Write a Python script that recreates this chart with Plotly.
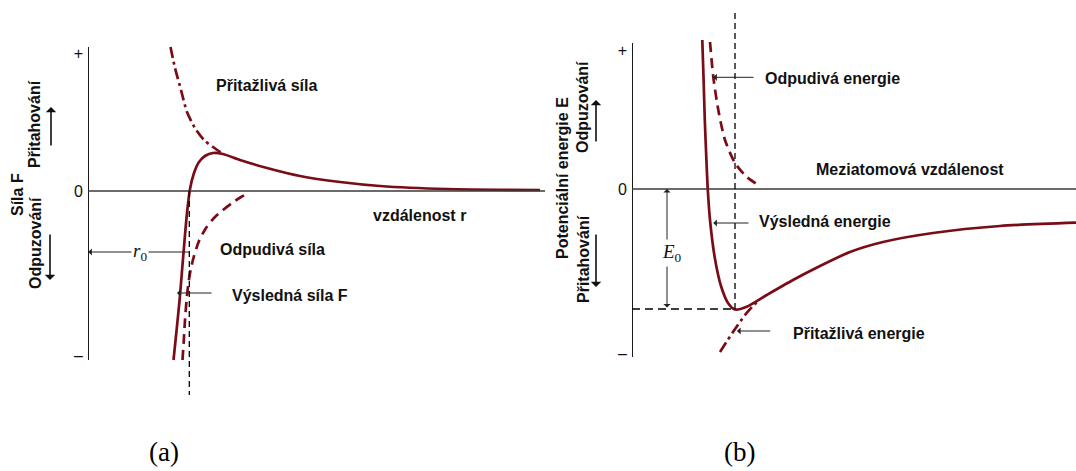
import plotly.graph_objects as go

MAROON = "#7a0c17"
W, H = 1076, 471

# ---------------- Panel (a): force vs distance ----------------
a_attr_r = [0.825, 0.87, 0.93, 0.99, 1.07, 1.16, 1.25, 1.35]
a_attr_F = [1.44, 1.23, 1.01, 0.79, 0.63, 0.51, 0.44, 0.37]

a_res_r = [0.855, 0.885, 0.915, 0.94, 0.965, 0.99, 1.02, 1.06, 1.11, 1.17, 1.25, 1.35,
           1.52, 1.79, 2.12, 2.52, 2.92, 3.59, 4.52]
a_res_F = [-1.69, -1.40, -1.10, -0.80, -0.50, -0.22, 0.02, 0.18, 0.29, 0.35, 0.38, 0.37,
           0.31, 0.23, 0.15, 0.09, 0.05, 0.02, 0.01]

a_rep_r = [0.945, 0.958, 0.97, 0.985, 1.003, 1.028, 1.06, 1.11, 1.18, 1.26, 1.35, 1.44, 1.53, 1.603]
a_rep_F = [-1.69, -1.49, -1.29, -1.10, -0.93, -0.78, -0.65, -0.50, -0.37, -0.27, -0.19, -0.12, -0.06, -0.02]

a_r0 = 1.013
a_ticks = [1.38, 0.0, -1.64]
a_ticktext = ["+", "0", "–"]

# ---------------- Panel (b): potential energy ----------------
b_res_r = [0.703, 0.716, 0.728, 0.742, 0.758, 0.783, 0.83, 0.89, 0.96, 1.03, 1.147, 1.347,
           1.61, 1.88, 2.18, 2.51, 3.01, 3.68, 4.44]
b_res_E = [1.49, 1.09, 0.69, 0.34, -0.01, -0.34, -0.70, -0.97, -1.14, -1.205, -1.177, -1.06,
           -0.91, -0.77, -0.63, -0.53, -0.44, -0.37, -0.337]

b_rep_r = [0.78, 0.813, 0.863, 0.93, 1.03, 1.147, 1.263]
b_rep_E = [1.47, 1.12, 0.79, 0.49, 0.26, 0.12, 0.04]

b_attr_r = [0.88, 1.01, 1.13, 1.20, 1.26]
b_attr_E = [-1.63, -1.43, -1.26, -1.18, -1.12]

b_r0 = 1.03
b_E0 = -1.20
b_ticks = [1.39, 0.0, -1.64]
b_ticktext = ["+", "0", "–"]

fig = go.Figure()

def curve(x, y, xa, ya, dash, width=2.7):
    fig.add_trace(go.Scatter(x=x, y=y, xaxis=xa, yaxis=ya, mode="lines",
                             line=dict(color=MAROON, width=width, dash=dash,
                                       shape="spline", smoothing=0.7),
                             hoverinfo="skip"))

DASHDOT = "11px,4px,3px,4px"
DASH = "10px,6px"

curve(a_attr_r, a_attr_F, "x", "y", DASHDOT)
curve(a_rep_r, a_rep_F, "x", "y", DASH)
curve(a_res_r, a_res_F, "x", "y", "solid")

curve(b_attr_r, b_attr_E, "x2", "y2", DASHDOT)
curve(b_rep_r, b_rep_E, "x2", "y2", DASH)
curve(b_res_r, b_res_E, "x2", "y2", "solid")

shapes = [
    # panel (a) axes
    dict(type="line", xref="x", yref="y", x0=0, x1=0, y0=-1.69, y1=1.44,
         line=dict(color="black", width=1.8)),
    dict(type="line", xref="x", yref="y", x0=0, x1=4.57, y0=0, y1=0,
         line=dict(color="#3a3a3a", width=1.6)),
    dict(type="line", xref="x", yref="y", x0=a_r0, x1=a_r0, y0=0, y1=-2.04,
         line=dict(color="black", width=1.3, dash="6px,4px")),
    # panel (b) axes
    dict(type="line", xref="x2", yref="y2", x0=0, x1=0, y0=-1.68, y1=1.46,
         line=dict(color="black", width=1.8)),
    dict(type="line", xref="x2", yref="y2", x0=0, x1=4.44, y0=0, y1=0,
         line=dict(color="#3a3a3a", width=1.6)),
    dict(type="line", xref="x2", yref="y2", x0=b_r0, x1=b_r0, y0=1.76, y1=b_E0,
         line=dict(color="black", width=1.3, dash="6px,4px")),
    dict(type="line", xref="x2", yref="y2", x0=0, x1=b_r0, y0=b_E0, y1=b_E0,
         line=dict(color="black", width=1.3, dash="8px,5px")),
]

SANS = "Liberation Sans, Arial, sans-serif"
SERIF = "Liberation Serif, Times New Roman, serif"

ann = []

def label(text, x, y, xref, yref, xanchor="center", size=16):
    ann.append(dict(text="<b>" + text + "</b>", x=x, y=y, xref=xref, yref=yref,
                    xanchor=xanchor, yanchor="middle", showarrow=False,
                    font=dict(family=SANS, size=size, color="#111")))

def arrow(x, y, ax, ay, xref, yref, side="end"):
    ann.append(dict(text="", x=x, y=y, ax=ax, ay=ay, xref=xref, yref=yref,
                    axref=xref, ayref=yref, showarrow=True, arrowhead=1,
                    arrowsize=1.2, arrowwidth=1, arrowcolor="#222", arrowside=side,
                    startarrowhead=1, startarrowsize=1.2))

# panel (a) labels
label("Přitažlivá síla", 1.78, 1.06, "x", "y")
label("vzdálenost r", 3.315, -0.24, "x", "y")
label("Odpudivá síla", 1.30, -0.58, "x", "y", xanchor="left")
label("Výsledná síla F", 1.42, -1.04, "x", "y", xanchor="left")
arrow(0.89, -1.02, 1.25, -1.02, "x", "y")
arrow(0.003, -0.61, 1.03, -0.61, "x", "y")
ann.append(dict(text="<i>r</i><sub>0</sub>", x=0.52, y=-0.61, xref="x", yref="y",
                showarrow=False, bgcolor="white", borderpad=1,
                font=dict(family=SERIF, size=19, color="#111")))

# panel (b) labels
label("Odpudivá energie", 1.31, 1.11, "x2", "y2", xanchor="left")
arrow(0.813, 1.117, 1.23, 1.117, "x2", "y2")
label("Výsledná energie", 1.25, -0.32, "x2", "y2", xanchor="left")
arrow(0.813, -0.34, 1.18, -0.34, "x2", "y2")
label("Meziatomová vzdálenost", 2.78, 0.20, "x2", "y2")
label("Přitažlivá energie", 1.59, -1.44, "x2", "y2", xanchor="left")
arrow(1.05, -1.42, 1.397, -1.42, "x2", "y2")
arrow(0.35, 0.0, 0.35, b_E0, "x2", "y2", side="end+start")
ann.append(dict(text="<i>E</i><sub>0</sub>", x=0.40, y=-0.64, xref="x2", yref="y2",
                showarrow=False, bgcolor="white", borderpad=1,
                font=dict(family=SERIF, size=19, color="#111")))

# side (axis) labels, paper coordinates from pixel layout
def side(text, px, py, size=16, bold=True):
    t = "<b>" + text + "</b>" if bold else text
    ann.append(dict(text=t, x=px / W, y=1 - py / H, xref="paper", yref="paper",
                    textangle=-90, showarrow=False, xanchor="center", yanchor="middle",
                    font=dict(family=SANS, size=size, color="#111")))

def side_arrow(px, py_head, py_tail):
    ann.append(dict(text="", x=px / W, y=1 - py_head / H, xref="paper", yref="paper",
                    ax=0, ay=py_tail - py_head, showarrow=True, arrowhead=1,
                    arrowsize=1.1, arrowwidth=1.6, arrowcolor="#111"))

side("Síla F", 17, 195)
side("Přitahování", 35, 124)
side("Odpuzování", 35, 243)
side_arrow(51, 107, 147)
side_arrow(50, 280, 233)

side("Potenciální energie E", 562, 178)
side("Odpuzování", 583, 107)
side("Přitahování", 583, 259)
side_arrow(596, 100, 143)
side_arrow(596, 287, 233)

# panel captions
for txt, px in [("(a)", 164), ("(b)", 739)]:
    ann.append(dict(text=txt, x=px / W, y=1 - 452 / H, xref="paper", yref="paper",
                    showarrow=False, xanchor="center", yanchor="middle",
                    font=dict(family=SERIF, size=27, color="black")))

yax = dict(domain=[0, 1], showgrid=False, zeroline=False, showline=False, ticks="",
           tickfont=dict(family=SANS, size=16, color="#111"), ticklabelstandoff=4,
           fixedrange=True)

fig.update_layout(
    width=W, height=H, margin=dict(l=0, r=0, t=0, b=0),
    paper_bgcolor="white", plot_bgcolor="white", showlegend=False,
    xaxis=dict(domain=[88 / W, 548 / W], range=[0, 4.60], visible=False, anchor="y"),
    yaxis=dict(yax, range=[-2.80, 1.91], anchor="x", tickvals=a_ticks, ticktext=a_ticktext),
    xaxis2=dict(domain=[632 / W, 1.0], range=[0, 4.44], visible=False, anchor="y2"),
    yaxis2=dict(yax, range=[-2.82, 1.89], anchor="x2", tickvals=b_ticks, ticktext=b_ticktext),
    shapes=shapes, annotations=ann,
)

fig.write_html("out.html", config={"displayModeBar": False},
               post_script="document.body.style.margin='0';document.body.style.overflow='hidden';")
